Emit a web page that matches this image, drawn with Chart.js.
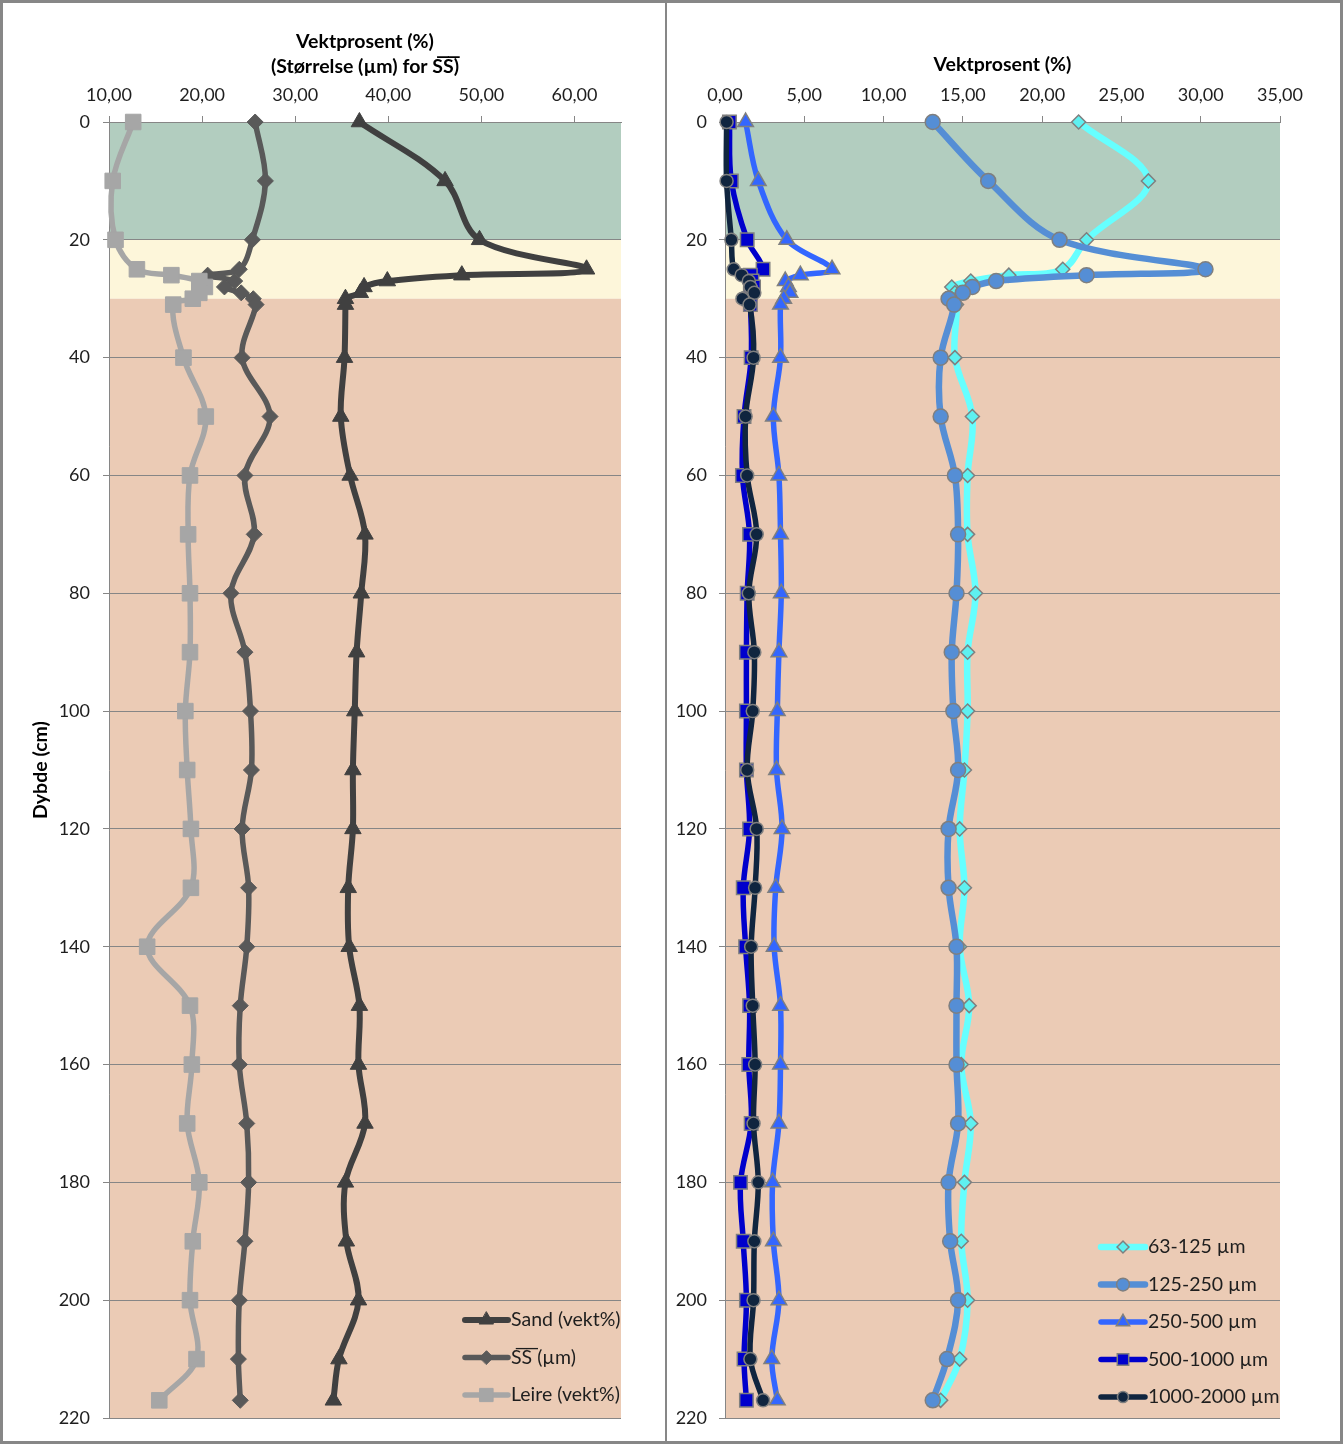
<!DOCTYPE html>
<html><head><meta charset="utf-8">
<script src="https://cdn.jsdelivr.net/npm/chart.js@4.4.1/dist/chart.umd.min.js"></script>
<style>
html,body{margin:0;padding:0;background:#fff;}
#wrap{position:relative;width:1343px;height:1444px;overflow:hidden;background:#fff;}
#c1{position:absolute;left:0;top:0;width:666px;height:1444px;}
#c2{position:absolute;left:667px;top:0;width:676px;height:1444px;}
.b{position:absolute;background:#878787;}
</style></head><body>
<div id="wrap">
<canvas id="c1" width="666" height="1444"></canvas>
<canvas id="c2" width="676" height="1444"></canvas>
<div class="b" style="left:0;top:0;width:1343px;height:3px"></div>
<div class="b" style="left:0;top:1441px;width:1343px;height:3px"></div>
<div class="b" style="left:0;top:0;width:3px;height:1444px"></div>
<div class="b" style="left:1340px;top:0;width:3px;height:1444px"></div>
<div class="b" style="left:665px;top:0;width:2px;height:1444px"></div>
</div>
<script>
// ---------- data ----------
const depth = [0,10,20,25,26,27,28,29,30,31,40,50,60,70,80,90,100,110,120,130,140,150,160,170,180,190,200,210,217];

const sand  = [36.9,46.1,49.8,61.3,47.9,39.9,37.4,37.0,35.4,35.4,35.3,34.9,35.9,37.5,37.1,36.6,36.4,36.2,36.2,35.7,35.8,36.9,36.8,37.5,35.4,35.5,36.8,34.7,34.1];
const ssMean = [25.7,26.8,25.4,24.0,20.6,23.5,22.4,24.2,25.5,25.8,24.3,27.3,24.6,25.6,23.1,24.6,25.2,25.3,24.3,25.0,24.8,24.1,24.0,24.8,25.0,24.6,24.0,23.9,24.1];
const leire = [12.6,10.4,10.7,13.0,16.7,19.7,20.3,19.7,19.0,16.9,18.0,20.4,18.7,18.5,18.7,18.7,18.2,18.4,18.8,18.8,14.1,18.7,18.9,18.4,19.7,19.0,18.7,19.4,15.4];

const f63   = [22.3,26.7,22.8,21.3,17.9,15.5,14.3,14.5,14.3,14.6,14.5,15.6,15.3,15.3,15.8,15.3,15.3,15.1,14.8,15.1,14.8,15.4,14.9,15.5,15.1,14.9,15.3,14.8,13.6];
const f125  = [13.1,16.6,21.1,30.3,22.8,17.1,15.6,15.0,14.1,14.45,13.6,13.6,14.5,14.7,14.6,14.3,14.4,14.7,14.1,14.1,14.6,14.6,14.6,14.7,14.1,14.2,14.7,14.0,13.1];
const f250  = [1.3,2.1,3.9,6.75,4.75,3.8,4.0,4.1,3.7,3.5,3.5,3.05,3.4,3.5,3.55,3.4,3.3,3.25,3.6,3.2,3.1,3.5,3.5,3.4,3.0,3.05,3.4,2.95,3.3];
const f500  = [0.28,0.4,1.4,2.4,1.6,1.7,1.8,1.6,1.5,1.6,1.65,1.2,1.1,1.55,1.4,1.35,1.35,1.35,1.55,1.15,1.3,1.55,1.5,1.65,0.98,1.15,1.35,1.2,1.35];
const f1000 = [0.1,0.1,0.4,0.55,1.05,1.5,1.6,1.85,1.1,1.55,1.8,1.3,1.4,2.0,1.5,1.85,1.75,1.4,2.0,1.9,1.65,1.75,1.9,1.8,2.1,1.85,1.8,1.6,2.4];

const xTicksLeft  = [10,20,30,40,50,60];
const xTicksRight = [0,5,10,15,20,25,30,35];
const yTicks = [0,20,40,60,80,100,120,140,160,180,200,220];

const bandEdges  = [0,20,30,220];
const bandColors = ['#b2cdbf','#fdf6da','#ebcbb5'];

const labelsLeft  = ['Sand (vekt%)','S\u0305S\u0305 (\u00b5m)','Leire (vekt%)'];
const labelsRight = ['63-125 \u00b5m','125-250 \u00b5m','250-500 \u00b5m','500-1000 \u00b5m','1000-2000 \u00b5m'];

// ---------- helpers ----------
const FONT = 'Lato, "Open Sans", sans-serif';
const TXT = '#1e1e1e';
const GRID = '#868686';
const pts = vals => vals.map((v,i)=>({x:v, y:depth[i]}));
const fmt = v => Number(v).toFixed(2).replace('.', ',');

const bandPlugin = {
  id:'bands',
  beforeDraw(chart){
    const {ctx, chartArea:a, scales:{y}} = chart;
    ctx.save();
    for (let i=0;i<bandColors.length;i++){
      const y0 = y.getPixelForValue(bandEdges[i]);
      const y1 = y.getPixelForValue(bandEdges[i+1]);
      ctx.fillStyle = bandColors[i];
      ctx.fillRect(a.left, y0, a.right-a.left, y1-y0);
    }
    ctx.restore();
  }
};

const legendPlugin = {
  id:'inLegend',
  afterDatasetsDraw(chart, args, opts){
    const {ctx, chartArea:a} = chart;
    ctx.save();
    chart.data.datasets.forEach((ds,i)=>{
      const y = a.bottom - opts.firstOffset + i*opts.spacing;
      const x0 = a.right - opts.lineStart, x1 = a.right - opts.lineEnd;
      ctx.strokeStyle = ds.borderColor; ctx.lineWidth = ds.borderWidth; ctx.lineCap='round';
      ctx.beginPath(); ctx.moveTo(x0,y); ctx.lineTo(x1,y); ctx.stroke();
      ctx.fillStyle = ds.pointBackgroundColor; ctx.strokeStyle = ds.pointBorderColor;
      ctx.lineWidth = ds.pointBorderWidth;
      Chart.helpers.drawPoint(ctx, {pointStyle: ds.pointStyle, radius: ds.pointRadius*0.85, rotation:0, borderWidth: ds.pointBorderWidth}, (x0+x1)/2, y);
      ctx.fillStyle = TXT; ctx.font = '19.5px ' + FONT; ctx.textBaseline='middle'; ctx.textAlign='left';
      ctx.fillText(ds.label, a.right - opts.textStart, y);
    });
    ctx.restore();
  }
};

function ds(label, vals, color, style, r, lw, mfill, mborder, mbw, order){
  return {label, data: pts(vals), borderColor: color, borderWidth: lw,
    pointStyle: style, pointRadius: r, pointBackgroundColor: mfill,
    pointBorderColor: mborder, pointBorderWidth: mbw, tension: 0.35,
    clip: false, fill:false, order};
}

function scalesFor(xmin, xmax, xticks, titleText, titlePad, yWidth, yTitle, xTickPad, yTickPad){
  const y = {
    type:'linear', reverse:true, min:0, max:220,
    afterBuildTicks: s => { s.ticks = yTicks.map(v=>({value:v})); },
    ticks:{font:{family:FONT,size:18}, color:TXT, padding:yTickPad, autoSkip:false},
    grid:{color:GRID, lineWidth:1, tickLength:6, drawTicks:true},
    border:{display:true, color:GRID, width:1},
    afterFit: s => { s.width = yWidth; }
  };
  if (yTitle) y.title = {display:true, text:yTitle, color:'#000', font:{family:FONT,size:19.5,weight:'bold',lineHeight:1.2}, padding:{top:29,bottom:0}};
  return {
    x:{type:'linear', position:'top', min:xmin, max:xmax,
      afterBuildTicks: s => { s.ticks = xticks.map(v=>({value:v})); },
      ticks:{font:{family:FONT,size:18}, color:TXT, padding:xTickPad, maxRotation:0, autoSkip:false, callback: v=>fmt(v)},
      grid:{drawOnChartArea:false, drawTicks:true, tickLength:6, color:GRID},
      border:{display:true, color:GRID, width:1},
      title:{display:true, text:titleText, color:'#000', font:{family:FONT,size:19.5,weight:'bold',lineHeight:1.28}, padding:{top:titlePad,bottom:0}},
      afterFit: s => { s.height = 122; }
    },
    y
  };
}

const common = {
  responsive:false, animation:false, maintainAspectRatio:false,
  events:[],
};

new Chart(document.getElementById('c1'), {
  type:'line',
  data:{datasets:[
    ds(labelsLeft[0], sand,  '#404040','triangle',9.5,6,'#404040','#404040',1,0),
    ds(labelsLeft[1], ssMean,'#595959','rectRot',8,5.5,'#595959','#595959',1,-1),
    ds(labelsLeft[2], leire, '#a6a6a6','rect',11,5.5,'#a6a6a6','#a6a6a6',1,-2)
  ]},
  options:Object.assign({}, common, {
    layout:{padding:{left:0,right:45,top:0,bottom:26}},
    scales: scalesFor(10,65,xTicksLeft,['Vektprosent (%)','(St\u00f8rrelse (\u00b5m) for S\u0305S\u0305)'],29.5,109,'Dybde (cm)',10,13),
    plugins:{legend:{display:false}, tooltip:{enabled:false},
      inLegend:{firstOffset:98, spacing:37.5, lineStart:156, lineEnd:113, textStart:110}}
  }),
  plugins:[bandPlugin, legendPlugin]
});

new Chart(document.getElementById('c2'), {
  type:'line',
  data:{datasets:[
    ds(labelsRight[0], f63,  '#66ffff','rectRot',7,6.5,'#5ef0f0','#7f7f7f',1.5,0),
    ds(labelsRight[1], f125, '#558ed5','circle',7.5,6.5,'#558ed5','#7f7f7f',1.5,-1),
    ds(labelsRight[2], f250, '#3366ff','triangle',9,5.5,'#3366ff','#7f7f7f',1.5,-2),
    ds(labelsRight[3], f500, '#0000cc','rect',9.5,5.5,'#0000cc','#7f7f7f',1.5,-3),
    ds(labelsRight[4], f1000,'#10253f','circle',6.5,5.5,'#10253f','#7f7f7f',1.5,-4)
  ]},
  options:Object.assign({}, common, {
    layout:{padding:{left:0,right:63,top:0,bottom:26}},
    scales: scalesFor(0,35,xTicksRight,'Vektprosent (%)',52.5,58,null,10,12),
    plugins:{legend:{display:false}, tooltip:{enabled:false},
      inLegend:{firstOffset:171, spacing:37.5, lineStart:179, lineEnd:135, textStart:132}}
  }),
  plugins:[bandPlugin, legendPlugin]
});
</script>
</body></html>
